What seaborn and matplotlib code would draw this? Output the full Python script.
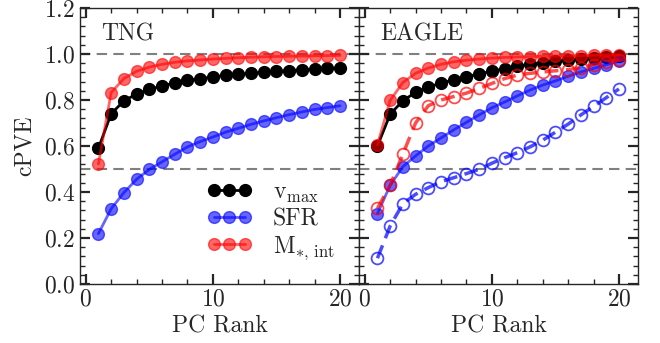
import matplotlib
matplotlib.use("Agg")
import matplotlib.pyplot as plt
import seaborn as sns
from matplotlib.ticker import MultipleLocator

# Cumulative proportion of variance explained per principal-component rank
pc_rank = list(range(1, 21))

tng_vmax = [0.590, 0.740, 0.796, 0.826, 0.846, 0.861, 0.874, 0.885, 0.893, 0.900,
            0.907, 0.912, 0.916, 0.920, 0.924, 0.928, 0.931, 0.934, 0.937, 0.939]
tng_sfr = [0.219, 0.327, 0.397, 0.455, 0.498, 0.531, 0.564, 0.596, 0.619, 0.639,
           0.660, 0.677, 0.694, 0.709, 0.723, 0.736, 0.748, 0.759, 0.767, 0.775]
tng_mstar = [0.522, 0.832, 0.893, 0.925, 0.943, 0.955, 0.964, 0.970, 0.974, 0.978,
             0.981, 0.984, 0.986, 0.988, 0.989, 0.990, 0.991, 0.992, 0.993, 0.994]

eagle_vmax = [0.600, 0.738, 0.797, 0.833, 0.857, 0.872, 0.889, 0.901, 0.913, 0.925,
              0.936, 0.947, 0.955, 0.962, 0.969, 0.974, 0.979, 0.983, 0.987, 0.991]
eagle_sfr = [0.306, 0.429, 0.510, 0.557, 0.600, 0.635, 0.670, 0.703, 0.735, 0.766,
             0.791, 0.818, 0.843, 0.865, 0.883, 0.903, 0.922, 0.937, 0.953, 0.968]
eagle_mstar = [0.605, 0.798, 0.876, 0.916, 0.939, 0.955, 0.966, 0.973, 0.978, 0.982,
               0.985, 0.987, 0.989, 0.990, 0.991, 0.992, 0.993, 0.994, 0.995, 0.996]
eagle_sfr_alt = [0.112, 0.252, 0.349, 0.390, 0.419, 0.445, 0.462, 0.480, 0.499, 0.525,
                 0.549, 0.571, 0.596, 0.625, 0.660, 0.695, 0.735, 0.772, 0.810, 0.848]
eagle_mstar_alt = [0.329, 0.429, 0.565, 0.700, 0.775, 0.800, 0.815, 0.830, 0.850, 0.872,
                   0.893, 0.908, 0.916, 0.922, 0.927, 0.932, 0.941, 0.954, 0.965, 0.974]

panel_names = ["TNG", "EAGLE"]
legend_labels = [r"$\rm v_{max}$", "SFR", r"$\rm M_{*,\,int}$"]

sns.set_style("ticks")
plt.rcParams.update({
    "font.family": ["cmr10", "DejaVu Serif"],
    "mathtext.fontset": "cm",
    "axes.formatter.use_mathtext": True,
    "axes.unicode_minus": False,
    "font.size": 17,
})

fig, axes = plt.subplots(1, 2, figsize=(6.6, 3.43), dpi=100, sharey=True)
fig.subplots_adjust(left=0.1212, right=0.9667, top=0.9767, bottom=0.172, wspace=0)


def filled(ax, y, color, alpha):
    sns.lineplot(x=pc_rank, y=y, ax=ax, color=color, alpha=alpha, lw=2,
                 marker="o", ms=8.5, mfc=color, mec=color, mew=1, legend=False)
    return ax.lines[-1]


def hollow(ax, y, color):
    sns.lineplot(x=pc_rank, y=y, ax=ax, color=color, alpha=0.7, lw=2.5,
                 ls=(0, (4, 2.2)), marker="o", ms=8.5, mfc="none", mec=color,
                 mew=1.3, legend=False)


for ax in axes:
    ax.axhline(1.0, color="0.5", ls=(0, (5, 3)), lw=1.5, zorder=0)
    ax.axhline(0.5, color="0.5", ls=(0, (5, 3)), lw=1.5, zorder=0)

h_v = filled(axes[0], tng_vmax, "black", 1.0)
h_s = filled(axes[0], tng_sfr, "blue", 0.6)
h_m = filled(axes[0], tng_mstar, "red", 0.6)

filled(axes[1], eagle_vmax, "black", 1.0)
filled(axes[1], eagle_sfr, "blue", 0.6)
filled(axes[1], eagle_mstar, "red", 0.6)
hollow(axes[1], eagle_sfr_alt, "blue")
hollow(axes[1], eagle_mstar_alt, "red")

for ax, name in zip(axes, panel_names):
    ax.set_xlim(-0.45, 21.5)
    ax.set_ylim(0, 1.2)
    ax.xaxis.set_major_locator(MultipleLocator(10))
    ax.xaxis.set_minor_locator(MultipleLocator(2))
    ax.yaxis.set_major_locator(MultipleLocator(0.2))
    ax.yaxis.set_minor_locator(MultipleLocator(0.04))
    ax.tick_params(which="both", direction="in", top=True, right=True)
    ax.tick_params(which="major", length=7, width=1.6, labelsize=17)
    ax.tick_params(which="minor", length=3.5, width=1.0)
    for s in ax.spines.values():
        s.set_linewidth(1.0)
    ax.set_xlabel("PC Rank", fontsize=17, labelpad=3)
    ax.text(0.075, 0.945, name, transform=ax.transAxes, ha="left", va="top",
            fontsize=17)

axes[0].set_ylabel("cPVE", fontsize=17, labelpad=6)
axes[1].tick_params(labelleft=False)

axes[0].legend([h_v, h_s, h_m], legend_labels, loc="center left",
               bbox_to_anchor=(0.455, 0.226), frameon=False, numpoints=3,
               handlelength=1.9, handletextpad=0.9, labelspacing=0.15,
               borderpad=0, borderaxespad=0, fontsize=17)

fig.savefig("out.png", dpi=100)
